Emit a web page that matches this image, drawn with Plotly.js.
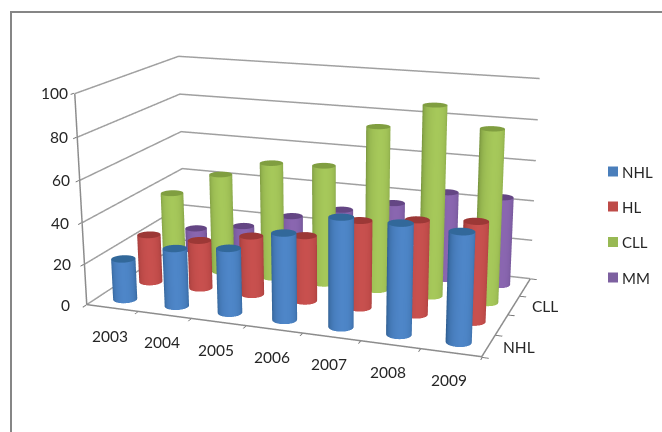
<!DOCTYPE html>
<html><head><meta charset="utf-8"><script src="https://cdn.plot.ly/plotly-3.0.0.min.js"></script>
<style>html,body{margin:0;padding:0;background:#fff;width:662px;height:432px;overflow:hidden}
#wrap{position:absolute;left:0;top:0;width:662px;height:432px;overflow:hidden}
#chart{position:absolute;left:-497px;top:-324px;width:1656px;height:1080px}</style></head><body>
<div id="wrap"><div id="chart"></div></div>
<script>
const years=['2003','2004','2005','2006','2007','2008','2009'];
const seriesNames=['NHL','HL','CLL','MM'];
const NHL=[20,28,31,41,51,51,50];
const HL=[24,24,29,32,42,45,47];
const CLL=[38,50,58,59,80,92,83];
const MM=[12,16,24,30,36,44,44];
const zTicks=[0,20,40,60,80,100];
const depthLabels=['NHL','','CLL',''];
const baseColors=[[78,134,200],[200,80,78],[166,200,90],[138,102,176]];
const edgeColors=[[44,90,140],[150,54,52],[118,146,60],[94,70,128]];
const capColors=[[50,104,154],[156,56,54],[128,158,64],[100,70,132]];
const legendColors=['#4a7ebb','#be4b48','#98b954','#7d60a0'];
const all=[NHL,HL,CLL,MM];
const W=1656,H=1080,OX=497,OY=324;
const eye={x:1.835,y:-4.988,z:1.468},center={x:0.098,y:-0.067,z:-0.082};
const aspect={x:1.7,y:0.953,z:0.904};
const FONT='Lato, "Noto Sans", sans-serif',TXT='#262626',AX='#8c8c8c',GRID='#a0a0a0';
const rgb=c=>`rgb(${c.map(Math.round).join(',')})`;
const mix=(a,b,t)=>a.map((v,i)=>v+(b[i]-v)*t);
const phi=Math.atan2(eye.y-center.y,eye.x-center.x);
const traces=[];
all.forEach((vals,s)=>{
  const X=[],Y=[],Z=[],I=[],J=[],K=[],C=[],n=36,r=0.21;
  vals.forEach((v,i)=>{
    const o=X.length;
    for(let a=0;a<n;a++){const t=a/n*2*Math.PI,f=Math.max(0,Math.cos(t-phi-0.15));
      const col=rgb(mix(edgeColors[s],baseColors[s],Math.pow(f,0.7)));
      X.push(i+r*Math.cos(t),i+r*Math.cos(t));Y.push(s+r*Math.sin(t),s+r*Math.sin(t));Z.push(0,v);C.push(col,col);
      const p=o+2*a,q=o+2*((a+1)%n);I.push(p,q);J.push(q,q+1);K.push(p+1,p+1);}
    const c0=X.length,cc=rgb(capColors[s]);
    X.push(i);Y.push(s);Z.push(v);C.push(cc);
    for(let a=0;a<n;a++){const t=a/n*2*Math.PI;X.push(i+r*Math.cos(t));Y.push(s+r*Math.sin(t));Z.push(v);C.push(cc);
      I.push(c0);J.push(c0+1+a);K.push(c0+1+(a+1)%n);}
  });
  traces.push({type:'mesh3d',x:X,y:Y,z:Z,i:I,j:J,k:K,vertexcolor:C,name:seriesNames[s],hoverinfo:'skip',
    lighting:{ambient:1,diffuse:0,specular:0,fresnel:0,roughness:1},showscale:false});
});
const e=0.01,xa=-0.5+e,xb=6.5-e,ya=-0.5+e,yb=3.5-e,cl=v=>Math.min(99.8,Math.max(0.2,v));
const gx=[],gy=[],gz=[];
zTicks.forEach(v=>{gx.push(xa,xa,xb,null);gy.push(ya,yb,yb,null);gz.push(cl(v),cl(v),cl(v),null);});
traces.push({type:'scatter3d',mode:'lines',x:gx,y:gy,z:gz,connectgaps:false,line:{color:GRID,width:3},hoverinfo:'skip',showlegend:false});
traces.push({type:'scatter3d',mode:'lines',x:[xa,xa,xb,xb],y:[ya,ya,ya,yb],z:[99.8,0.2,0.2,0.2],line:{color:AX,width:3},hoverinfo:'skip',showlegend:false});
const anns=[];
years.forEach((t,i)=>anns.push({x:i,y:-0.5,z:0,text:t,showarrow:false,xshift:-2,yshift:-27,font:{family:FONT,size:15.5,color:TXT}}));
depthLabels.forEach((t,s)=>{if(t)anns.push({x:6.5,y:s,z:0,text:t,showarrow:false,xshift:30,yshift:-1,font:{family:FONT,size:15.5,color:TXT}})});
const zAxisX=[85,82,81,78,77,75];
zTicks.forEach((v,i)=>anns.push({x:-0.5,y:-0.5,z:v,text:String(v),showarrow:false,xanchor:'right',xshift:71-zAxisX[i],font:{family:FONT,size:15.5,color:TXT}}));
const px=X=>(X+OX)/W,py=Y=>1-(Y+OY)/H;
const legendY=[171.5,206.5,242,277.5];
const paperAnn=seriesNames.map((t,i)=>({xref:'paper',yref:'paper',x:px(620),y:py(legendY[i]),xanchor:'left',yanchor:'middle',text:t,showarrow:false,font:{family:FONT,size:15,color:TXT}}));
const shapes=[{type:'rect',xref:'paper',yref:'paper',x0:px(11),x1:px(680),y0:py(12),y1:py(460),line:{color:'#868686',width:2},fillcolor:'rgba(0,0,0,0)'}];
legendColors.forEach((c,i)=>shapes.push({type:'rect',xref:'paper',yref:'paper',x0:px(608),x1:px(618),y0:py(legendY[i]-5),y1:py(legendY[i]+5),line:{width:0},fillcolor:c}));
const common={title:{text:''},showgrid:false,zeroline:false,showbackground:false,showspikes:false,showticklabels:false,showline:false,ticks:'outside',ticklen:5,tickwidth:2,tickcolor:'#707070'};
const layout={width:W,height:H,margin:{l:0,r:0,t:0,b:0},showlegend:false,paper_bgcolor:'#fff',hovermode:false,shapes,annotations:paperAnn,
 scene:{aspectmode:'manual',aspectratio:aspect,camera:{eye,center,up:{x:0,y:0,z:1},projection:{type:'perspective'}},annotations:anns,
 xaxis:{...common,range:[-0.5,6.5],tickvals:[-0.5,0.5,1.5,2.5,3.5,4.5,5.5,6.5]},
 yaxis:{...common,range:[-0.5,3.5],tickvals:[-0.5,0.5,1.5,2.5,3.5]},
 zaxis:{...common,range:[0,100],tickvals:zTicks}}};
Plotly.newPlot('chart',traces,layout,{displayModeBar:false});
</script></body></html>
